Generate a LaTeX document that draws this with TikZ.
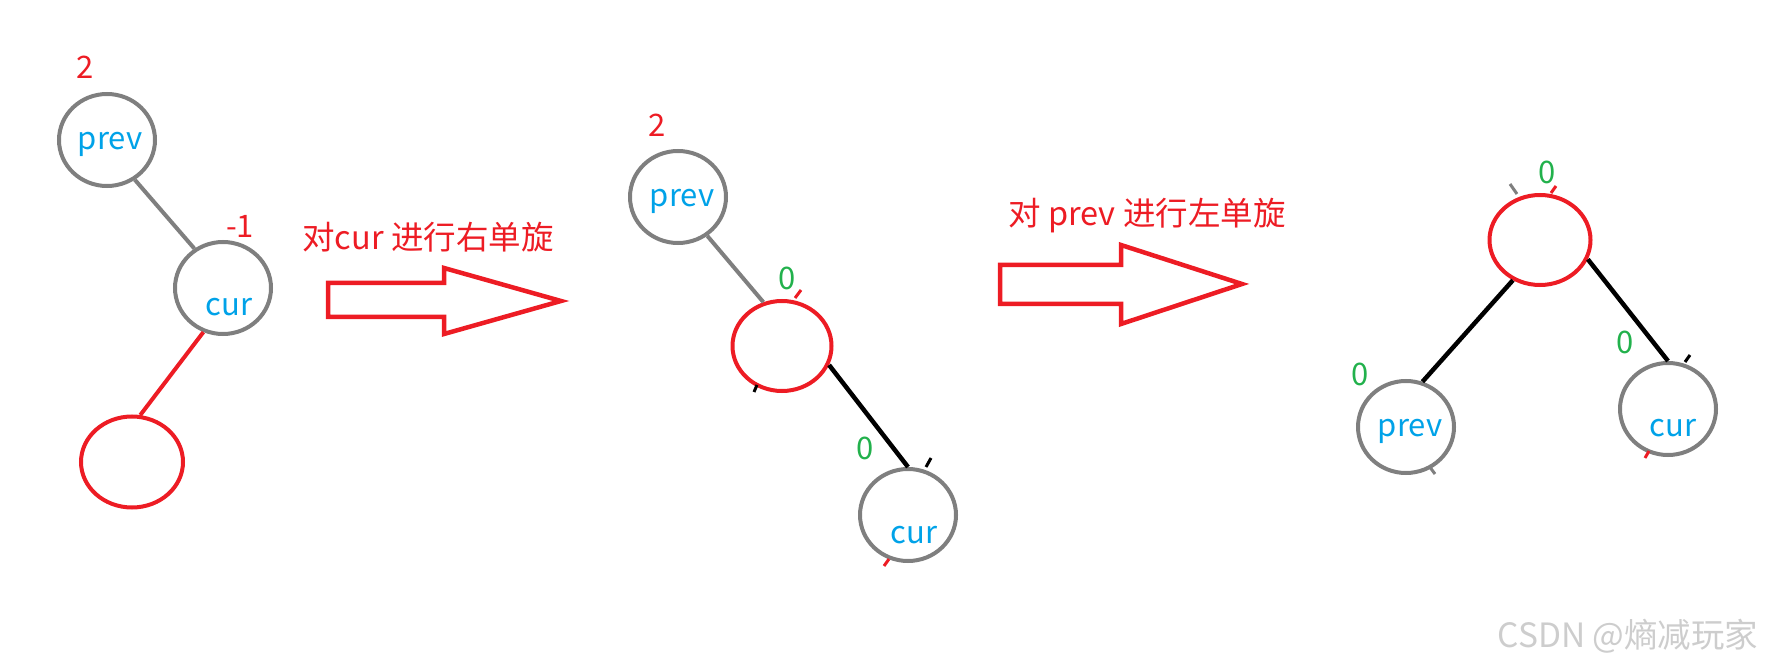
\documentclass[tikz,border=0pt]{standalone}
\usepackage{fontspec}
\setmainfont{Noto Sans CJK SC}
\usetikzlibrary{shapes.geometric}
\definecolor{pgray}{RGB}{127,127,127}
\definecolor{pred}{RGB}{237,28,36}
\definecolor{pblue}{RGB}{0,162,232}
\definecolor{pgreen}{RGB}{34,177,76}
\definecolor{wmark}{RGB}{205,205,205}
\tikzset{
  nd/.style={ellipse, draw=pgray, line width=4pt, inner sep=0pt, minimum width=96pt, minimum height=92pt},
  rnd/.style={ellipse, draw=pred, line width=4pt, inner sep=0pt, minimum width=100pt, minimum height=90pt},
  lbl/.style={text=pblue, font=\fontsize{31}{36}\selectfont, inner sep=0pt},
  bf/.style={text=pred, font=\fontsize{31}{36}\selectfont, inner sep=0pt},
  gbf/.style={text=pgreen, font=\fontsize{31}{36}\selectfont, inner sep=0pt},
  captext/.style={text=pred, font=\fontsize{32.5}{38}\selectfont, inner sep=0pt},
  gline/.style={draw=pgray, line width=4pt},
  rline/.style={draw=pred, line width=4pt},
  bline/.style={draw=black, line width=4.5pt},
  bigarrow/.style={draw=pred, line width=4.5pt, line join=miter},
  tick/.style={line width=3pt}
}
\begin{document}
\begin{tikzpicture}[x=1pt,y=-1pt]
\useasboundingbox (0,0) rectangle (1767,668);
% ---------- picture 1 ----------
\node[nd] (p1) at (107,140) {};
\node[nd] (c1) at (223,288) {};
\node[rnd, minimum width=102pt, minimum height=91pt] (r1) at (132,462) {};
\node[lbl] (p1t) at (110,144) {prev};
\node[lbl] (c1t) at (229,307) {cur};
\node[bf] (b1) at (85,67) {2};
\node[bf] (b2) at (240,226) {-1};
\draw[gline] (p1.-55) -- (c1.126);
\draw[rline] (c1.-114) -- (r1.80);
% ---------- arrow 1 ----------
\node[captext] (t1) at (428,237) {对cur 进行右单旋};
\draw[bigarrow] (328,283) -- (444,283) -- (444,268) -- (561,301) -- (444,334) -- (444,317) -- (328,317) -- cycle;
% ---------- picture 2 ----------
\node[nd] (p2) at (678,197) {};
\node[rnd, minimum width=99pt, minimum height=90pt] (r2) at (782,346) {};
\node[nd] (c2) at (908,515) {};
\node[lbl] (p2t) at (682,201) {prev};
\node[lbl] (c2t) at (914,535) {cur};
\node[bf] (b3) at (657,125) {2};
\node[gbf] (g1) at (787,278) {0};
\node[gbf] (g2) at (865,448) {0};
\draw[gline] (p2.-53) -- (r2.113);
\draw[bline] (r2.-22) -- (c2.90);
\draw[tick, pred] (795,298) -- (801,290);
\draw[tick, black] (754,392) -- (757,385);
\draw[tick, black] (926,467) -- (931,458);
\draw[tick, pred] (884,566) -- (889,559);
% ---------- arrow 2 ----------
\node[captext] (t2) at (1147,216) {对 prev 进行左单旋};
\draw[bigarrow] (1000,265) -- (1121,265) -- (1121,245) -- (1242,284) -- (1121,324) -- (1121,304) -- (1000,304) -- cycle;
% ---------- picture 3 ----------
\node[rnd, minimum width=101pt, minimum height=90pt] (r3) at (1540,240) {};
\node[nd] (p3) at (1406,427) {};
\node[nd] (c3) at (1668,409) {};
\node[lbl] (p3t) at (1410,431) {prev};
\node[lbl] (c3t) at (1673,428) {cur};
\node[gbf] (g3) at (1547,172) {0};
\node[gbf] (g4) at (1360,374) {0};
\node[gbf] (g5) at (1625,342) {0};
\draw[bline] (p3.70) -- (r3.-124);
\draw[bline] (r3.-22) -- (c3.90);
\draw[tick, pgray] (1510,184) -- (1517,194);
\draw[tick, pred] (1551,193) -- (1556,186);
\draw[tick, pgray] (1429,466) -- (1435,474);
\draw[tick, black] (1685,362) -- (1690,355);
\draw[tick, pred] (1645,458) -- (1649,451);
% ---------- watermark ----------
\node[text=wmark, font=\fontsize{33.5}{38}\selectfont, inner sep=0pt] (wm) at (1628,636) {CSDN @熵减玩家};
\end{tikzpicture}
\end{document}
